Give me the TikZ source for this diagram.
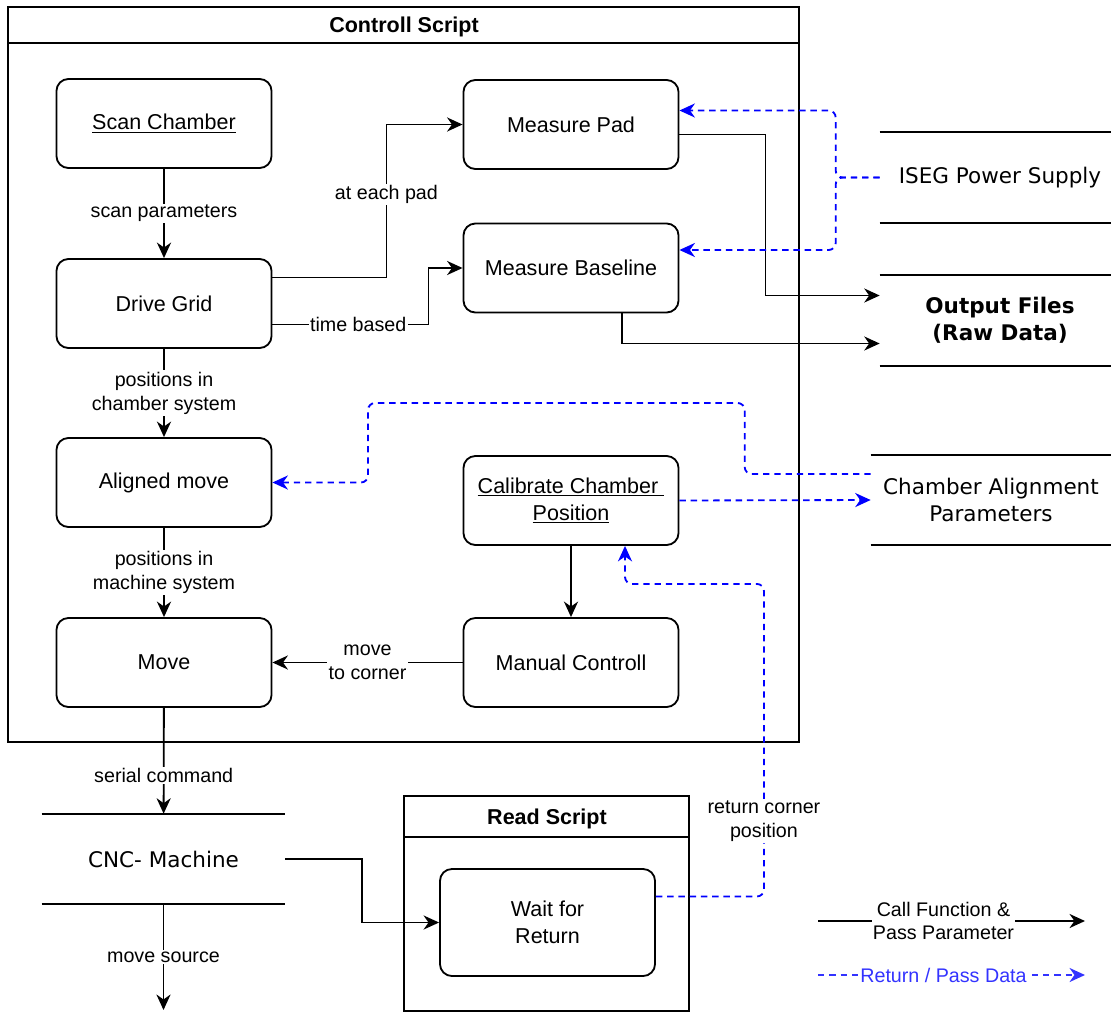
\documentclass[tikz,border=0pt]{standalone}
\usepackage{fontspec}
\setmainfont{Liberation Sans}
\newfontfamily\storefont{DejaVu Sans}
\usetikzlibrary{arrows.meta, calc}
\definecolor{retblue}{HTML}{0000FF}
\definecolor{legblue}{HTML}{3333FF}

\tikzset{
  box/.style={draw, line width=1.3pt, rounded corners=8.5pt, minimum width=53.75mm,
    minimum height=22.25mm, align=center, font=\fontsize{15.3}{19}\selectfont},
  store/.style={inner sep=0pt, align=center, minimum height=22.5mm,
    font=\storefont\fontsize{15.3}{19}\selectfont},
  lbl/.style={fill=white, inner sep=1pt, align=center, font=\fontsize{14}{17}\selectfont},
  arr/.style={draw, line width=1.3pt, -{Stealth[length=11pt, width=10pt, inset=3.5pt]}},
  ret/.style={arr, retblue, dash pattern=on 4.5pt off 3.5pt, rounded corners=5pt},
  frame/.style={draw, line width=1.4pt}
}

\begin{document}
\begin{tikzpicture}[x=0.025cm, y=-0.025cm]
  \useasboundingbox (0,0) rectangle (1111,1012);

  % frames
  \draw[frame] (8,7) rectangle (799,742);
  \draw[frame] (8,43) -- (799,43);
  \node[font=\fontsize{15.3}{19}\selectfont\bfseries] (ctltitle) at (404,27) {Controll Script};
  \draw[frame] (404,796) rectangle (689,1011);
  \draw[frame] (404,837) -- (689,837);
  \node[font=\fontsize{15.3}{19}\selectfont\bfseries] (readtitle) at (547,819) {Read Script};

  % functions
  \node[box] (scan) at (164,123.5) {\underline{Scan Chamber}};
  \node[box] (drive) at (164,303.5) {Drive Grid};
  \node[box] (align) at (164,482.5) {Aligned move};
  \node[box] (move) at (164,662.5) {Move};
  \node[box] (pad) at (571,124.5) {Measure Pad};
  \node[box] (base) at (571,268) {Measure Baseline};
  \node[box] (calib) at (571,500.5) {\underline{Calibrate Chamber\ }\\\underline{Position}};
  \node[box] (manual) at (571,662.5) {Manual Controll};
  \node[box, minimum height=26.75mm] (wait) at (547.5,922.5) {Wait for\\Return};

  % data stores
  \node[store, minimum width=60mm] (iseg) at (1000,177.5) {ISEG Power Supply};
  \node[store, minimum width=60mm, font=\storefont\fontsize{15.3}{19}\selectfont\bfseries] (out) at (1000,320.5) {Output Files\\(Raw Data)};
  \node[store, minimum width=60mm] (cap) at (991,500) {Chamber Alignment\\Parameters};
  \node[store, minimum width=60.75mm] (cnc) at (163.5,859) {CNC- Machine};
  \foreach \s in {iseg, out, cap, cnc} {
    \draw[line width=1.3pt] (\s.north west) -- (\s.north east) (\s.south west) -- (\s.south east);
  }

  % calls
  \draw[arr] (scan) -- node[lbl]{scan parameters} (drive);
  \draw[arr] (drive) -- node[lbl]{positions in\\chamber system} (align);
  \draw[arr] (align) -- node[lbl]{positions in\\machine system} (move);
  \draw[arr] (move) -- node[lbl, pos=0.64]{serial command} (cnc);
  \coordinate (srcend) at (163.5,1010);
  \draw[arr] (cnc) -- node[lbl]{move source} (srcend);
  \draw[arr] ($(drive.east)+(0,-26)$) -- ++(114,0) |- node[lbl, pos=0.27]{at each pad} (pad.west);
  \draw[arr] ($(drive.east)+(0,21)$) -- node[lbl, pos=0.55]{time based} ++(156,0) |- (base.west);
  \draw[arr] (manual) -- node[lbl]{move\\to corner} (move);
  \draw[arr] (calib) -- (manual);
  \draw[arr] ($(pad.east)+(0,10)$) -- ++(86,0) |- ($(out.west)+(0,-25)$);
  \draw[arr] ($(base.south)+(51,0)$) |- ($(out.west)+(0,23)$);
  \draw[arr] (cnc.east) -- ++(77,0) |- (wait.west);

  % returns
  \draw[ret] (iseg.west) -- ++(-44,0) |- ($(pad.east)+(0,-14)$);
  \draw[ret] (iseg.west) -- ++(-44,0) |- ($(base.east)+(0,-18)$);
  \draw[ret] ($(cap.west)+(0,-26)$) -- ++(-126,0) |- (368,403) |- (align.east);
  \draw[ret] (calib.east) -- (cap.west);
  \draw[ret] ($(wait.east)+(0,-26)$) -- ++(108,0) |- node[lbl, text=black, pos=0.12]{return corner\\position} ($(calib.south)+(54,38)$) -- ($(calib.south)+(54,0)$);

  % legend
  \coordinate (callA) at (818,921);
  \coordinate (callB) at (1085,921);
  \coordinate (retA) at (818,975);
  \coordinate (retB) at (1085,975);
  \draw[arr] (callA) -- node[lbl, pos=0.47]{Call Function \&\\Pass Parameter} (callB);
  \draw[ret, legblue] (retA) -- node[lbl, text=legblue, pos=0.47]{Return / Pass Data} (retB);
\end{tikzpicture}
\end{document}
